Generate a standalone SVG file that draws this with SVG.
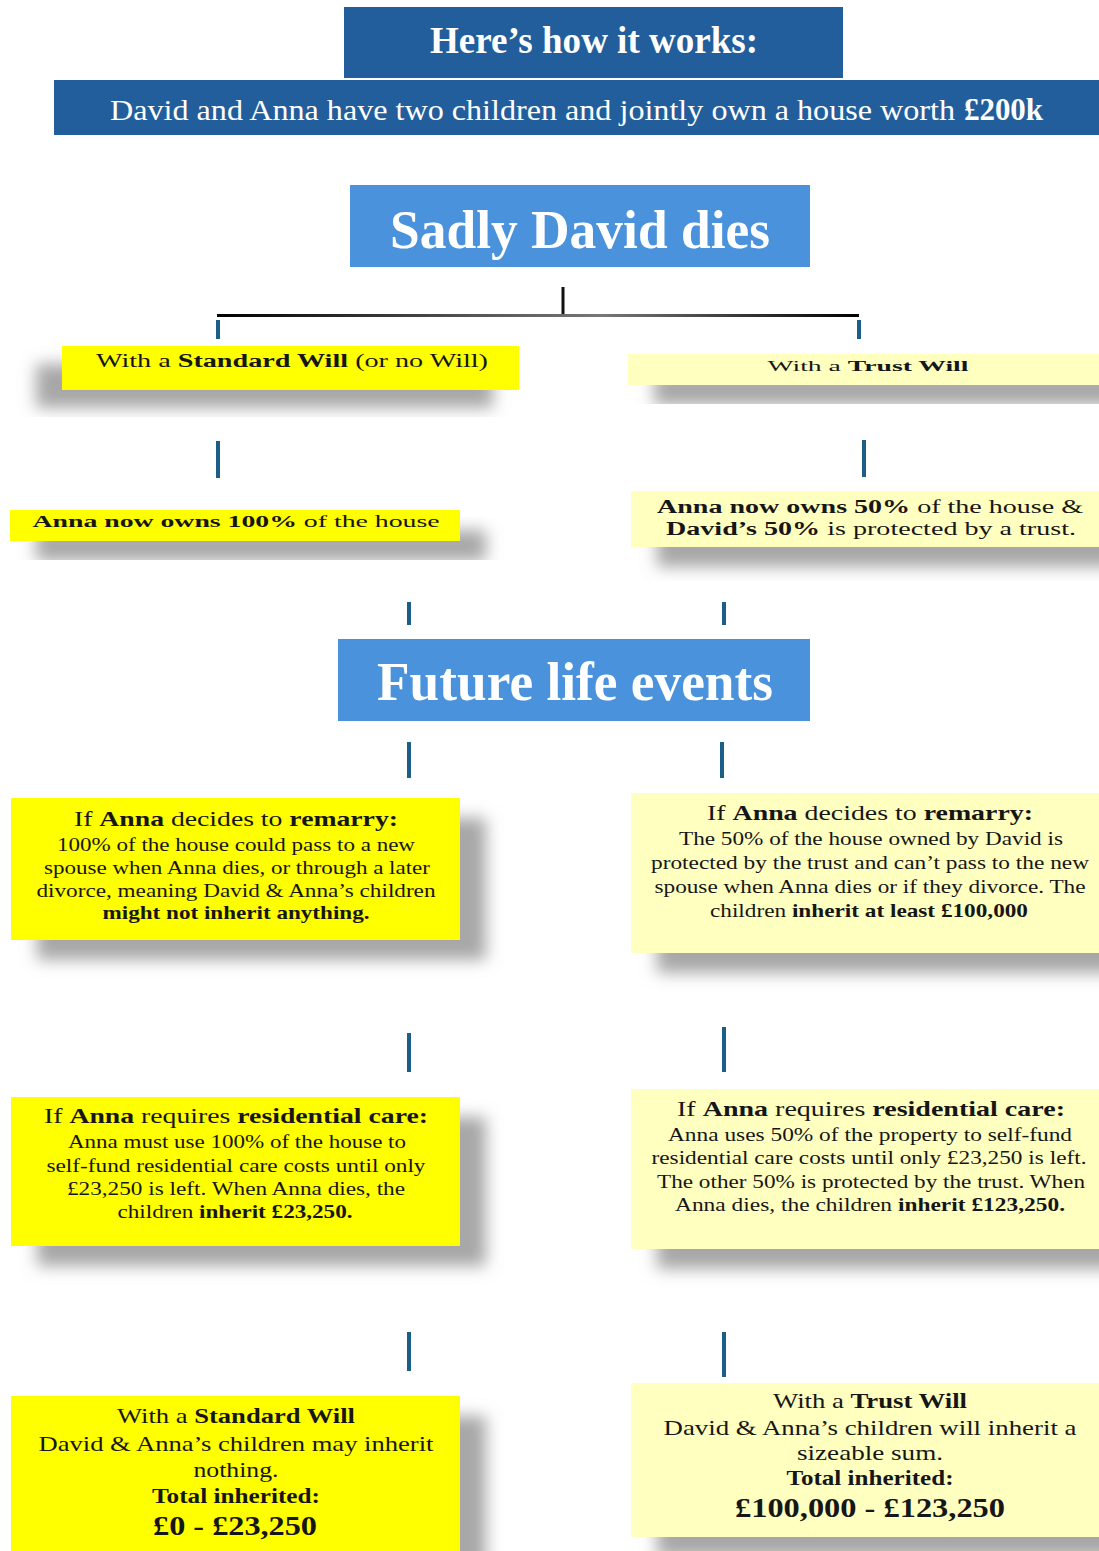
<svg xmlns="http://www.w3.org/2000/svg" width="1099" height="1551" viewBox="0 0 1099 1551">
<style>
.ser{font-family:"Liberation Serif","Times New Roman",serif;fill:#161616}
.wt{font-family:"Liberation Serif","Times New Roman",serif;fill:#ffffff}
.b{font-weight:bold}
.dk{fill:#225e9b}
.lt{fill:#4a93dc}
.y1{fill:#ffff00}
.y2{fill:#ffffc0}
.tick{stroke:#1b5f88;stroke-width:4}
</style>
<defs>
<filter id="shR" x="-20%" y="-40%" width="150%" height="200%">
<feGaussianBlur in="SourceAlpha" stdDeviation="8"/>
<feOffset dx="26" dy="20" result="o"/>
<feFlood flood-color="#8a8a8a" flood-opacity="0.75"/>
<feComposite in2="o" operator="in"/>
<feMerge><feMergeNode/><feMergeNode in="SourceGraphic"/></feMerge>
</filter>
<filter id="shL" x="-30%" y="-40%" width="150%" height="200%">
<feGaussianBlur in="SourceAlpha" stdDeviation="8"/>
<feOffset dx="-26" dy="18" result="o"/>
<feFlood flood-color="#8a8a8a" flood-opacity="0.75"/>
<feComposite in2="o" operator="in"/>
<feMerge><feMergeNode/><feMergeNode in="SourceGraphic"/></feMerge>
</filter>
<linearGradient id="hl" x1="0" y1="0" x2="1" y2="0">
<stop offset="0" stop-color="#000"/>
<stop offset="0.4" stop-color="#555"/>
<stop offset="0.6" stop-color="#777"/>
<stop offset="1" stop-color="#000"/>
</linearGradient>
</defs>
<rect width="1099" height="1551" fill="#ffffff"/>

<g id="connectors">
<line x1="563" y1="287" x2="563" y2="316" stroke="#111" stroke-width="3"/>
<rect x="217" y="314" width="642" height="3" fill="url(#hl)"/>
<line class="tick" x1="218" y1="320" x2="218" y2="339"/>
<line class="tick" x1="859" y1="320" x2="859" y2="339"/>
<line class="tick" x1="218" y1="441" x2="218" y2="478"/>
<line class="tick" x1="864" y1="440" x2="864" y2="477"/>
<line class="tick" x1="409" y1="602" x2="409" y2="625"/>
<line class="tick" x1="724" y1="602" x2="724" y2="625"/>
<line class="tick" x1="409" y1="742" x2="409" y2="778"/>
<line class="tick" x1="722" y1="742" x2="722" y2="778"/>
<line class="tick" x1="409" y1="1033" x2="409" y2="1072"/>
<line class="tick" x1="724" y1="1027" x2="724" y2="1072"/>
<line class="tick" x1="409" y1="1332" x2="409" y2="1371"/>
<line class="tick" x1="724" y1="1332" x2="724" y2="1377"/>
</g>

<g id="header">
<rect class="dk" x="344" y="7" width="499" height="71"/>
<text class="wt b" x="594" y="53" font-size="38" text-anchor="middle" textLength="328" lengthAdjust="spacingAndGlyphs">Here’s how it works:</text>
</g>

<g id="intro">
<rect class="dk" x="54" y="80" width="1045" height="55"/>
<text class="wt" x="110" y="120" font-size="30" textLength="845" lengthAdjust="spacingAndGlyphs">David and Anna have two children and jointly own a house worth</text>
<text class="wt b" x="964" y="120" font-size="31" textLength="79" lengthAdjust="spacingAndGlyphs">£200k</text>
</g>

<g id="dies">
<rect class="lt" x="350" y="185" width="460" height="82"/>
<text class="wt b" x="580" y="248" font-size="54" text-anchor="middle" textLength="380" lengthAdjust="spacingAndGlyphs">Sadly David dies</text>
</g>

<g id="std-will">
<rect class="y1" x="62" y="346" width="457" height="44" filter="url(#shL)"/>
<text class="ser" x="292" y="367" font-size="18" text-anchor="middle" textLength="392" lengthAdjust="spacingAndGlyphs">With a <tspan class="b">Standard Will</tspan> (or no Will)</text>
</g>

<g id="trust-will">
<rect class="y2" x="628" y="354" width="471" height="31" filter="url(#shR)"/>
<text class="ser" x="868" y="371" font-size="15" text-anchor="middle" textLength="201" lengthAdjust="spacingAndGlyphs">With a <tspan class="b">Trust Will</tspan></text>
</g>

<g id="own-100">
<rect class="y1" x="10" y="510" width="450" height="31" filter="url(#shR)"/>
<text class="ser" x="236" y="527" font-size="16" text-anchor="middle" textLength="407" lengthAdjust="spacingAndGlyphs"><tspan class="b">Anna now owns 100%</tspan> of the house</text>
</g>

<g id="own-50">
<rect class="y2" x="631" y="491" width="468" height="56" filter="url(#shR)"/>
<text class="ser" x="870" y="513" font-size="18" text-anchor="middle" textLength="426" lengthAdjust="spacingAndGlyphs"><tspan class="b">Anna now owns 50%</tspan> of the house &amp;</text>
<text class="ser" x="871" y="535" font-size="18" text-anchor="middle" textLength="410" lengthAdjust="spacingAndGlyphs"><tspan class="b">David’s 50%</tspan> is protected by a trust.</text>
</g>

<g id="future">
<rect class="lt" x="338" y="639" width="472" height="82"/>
<text class="wt b" x="575" y="700" font-size="54" text-anchor="middle" textLength="396" lengthAdjust="spacingAndGlyphs">Future life events</text>
</g>

<g id="remarry-std">
<rect class="y1" x="11" y="798" width="449" height="142" filter="url(#shR)"/>
<text class="ser" x="236" y="826" font-size="22" text-anchor="middle" textLength="324" lengthAdjust="spacingAndGlyphs">If <tspan class="b">Anna</tspan> decides to <tspan class="b">remarry:</tspan></text>
<text class="ser" x="236" y="851" font-size="19" text-anchor="middle" textLength="358" lengthAdjust="spacingAndGlyphs">100% of the house could pass to a new</text>
<text class="ser" x="237" y="874" font-size="19" text-anchor="middle" textLength="386" lengthAdjust="spacingAndGlyphs">spouse when Anna dies, or through a later</text>
<text class="ser" x="236" y="897" font-size="19" text-anchor="middle" textLength="399" lengthAdjust="spacingAndGlyphs">divorce, meaning David &amp; Anna’s children</text>
<text class="ser b" x="236" y="919" font-size="19" text-anchor="middle" textLength="267" lengthAdjust="spacingAndGlyphs">might not inherit anything.</text>
</g>

<g id="remarry-trust">
<rect class="y2" x="631" y="793" width="468" height="160" filter="url(#shR)"/>
<text class="ser" x="870" y="820" font-size="22" text-anchor="middle" textLength="326" lengthAdjust="spacingAndGlyphs">If <tspan class="b">Anna</tspan> decides to <tspan class="b">remarry:</tspan></text>
<text class="ser" x="871" y="845" font-size="19" text-anchor="middle" textLength="384" lengthAdjust="spacingAndGlyphs">The 50% of the house owned by David is</text>
<text class="ser" x="870" y="869" font-size="19" text-anchor="middle" textLength="438" lengthAdjust="spacingAndGlyphs">protected by the trust and can’t pass to the new</text>
<text class="ser" x="870" y="893" font-size="19" text-anchor="middle" textLength="431" lengthAdjust="spacingAndGlyphs">spouse when Anna dies or if they divorce. The</text>
<text class="ser" x="869" y="917" font-size="19" text-anchor="middle" textLength="318" lengthAdjust="spacingAndGlyphs">children <tspan class="b">inherit at least £100,000</tspan></text>
</g>

<g id="care-std">
<rect class="y1" x="11" y="1097" width="449" height="149" filter="url(#shR)"/>
<text class="ser" x="236" y="1123" font-size="22" text-anchor="middle" textLength="384" lengthAdjust="spacingAndGlyphs">If <tspan class="b">Anna</tspan> requires <tspan class="b">residential care:</tspan></text>
<text class="ser" x="237" y="1148" font-size="19" text-anchor="middle" textLength="338" lengthAdjust="spacingAndGlyphs">Anna must use 100% of the house to</text>
<text class="ser" x="236" y="1172" font-size="19" text-anchor="middle" textLength="379" lengthAdjust="spacingAndGlyphs">self-fund residential care costs until only</text>
<text class="ser" x="236" y="1195" font-size="19" text-anchor="middle" textLength="338" lengthAdjust="spacingAndGlyphs">£23,250 is left. When Anna dies, the</text>
<text class="ser" x="235" y="1218" font-size="19" text-anchor="middle" textLength="235" lengthAdjust="spacingAndGlyphs">children <tspan class="b">inherit £23,250.</tspan></text>
</g>

<g id="care-trust">
<rect class="y2" x="631" y="1089" width="468" height="160" filter="url(#shR)"/>
<text class="ser" x="871" y="1116" font-size="22" text-anchor="middle" textLength="388" lengthAdjust="spacingAndGlyphs">If <tspan class="b">Anna</tspan> requires <tspan class="b">residential care:</tspan></text>
<text class="ser" x="870" y="1141" font-size="19" text-anchor="middle" textLength="404" lengthAdjust="spacingAndGlyphs">Anna uses 50% of the property to self-fund</text>
<text class="ser" x="869" y="1164" font-size="19" text-anchor="middle" textLength="435" lengthAdjust="spacingAndGlyphs">residential care costs until only £23,250 is left.</text>
<text class="ser" x="871" y="1188" font-size="19" text-anchor="middle" textLength="428" lengthAdjust="spacingAndGlyphs">The other 50% is protected by the trust. When</text>
<text class="ser" x="870" y="1211" font-size="19" text-anchor="middle" textLength="390" lengthAdjust="spacingAndGlyphs">Anna dies, the children <tspan class="b">inherit £123,250.</tspan></text>
</g>

<g id="total-std">
<rect class="y1" x="11" y="1396" width="449" height="160" filter="url(#shR)"/>
<text class="ser" x="236" y="1423" font-size="22" text-anchor="middle" textLength="238" lengthAdjust="spacingAndGlyphs">With a <tspan class="b">Standard Will</tspan></text>
<text class="ser" x="236" y="1451" font-size="22" text-anchor="middle" textLength="395" lengthAdjust="spacingAndGlyphs">David &amp; Anna’s children may inherit</text>
<text class="ser" x="236" y="1477" font-size="22" text-anchor="middle" textLength="85" lengthAdjust="spacingAndGlyphs">nothing.</text>
<text class="ser b" x="236" y="1503" font-size="22" text-anchor="middle" textLength="168" lengthAdjust="spacingAndGlyphs">Total inherited:</text>
<text class="ser b" x="235" y="1535" font-size="28" text-anchor="middle" textLength="164" lengthAdjust="spacingAndGlyphs">£0 - £23,250</text>
</g>

<g id="total-trust">
<rect class="y2" x="631" y="1383" width="468" height="154" filter="url(#shR)"/>
<text class="ser" x="870" y="1408" font-size="22" text-anchor="middle" textLength="194" lengthAdjust="spacingAndGlyphs">With a <tspan class="b">Trust Will</tspan></text>
<text class="ser" x="870" y="1435" font-size="22" text-anchor="middle" textLength="413" lengthAdjust="spacingAndGlyphs">David &amp; Anna’s children will inherit a</text>
<text class="ser" x="870" y="1460" font-size="22" text-anchor="middle" textLength="146" lengthAdjust="spacingAndGlyphs">sizeable sum.</text>
<text class="ser b" x="870" y="1485" font-size="22" text-anchor="middle" textLength="167" lengthAdjust="spacingAndGlyphs">Total inherited:</text>
<text class="ser b" x="870" y="1517" font-size="28" text-anchor="middle" textLength="270" lengthAdjust="spacingAndGlyphs">£100,000 - £123,250</text>
</g>
</svg>
